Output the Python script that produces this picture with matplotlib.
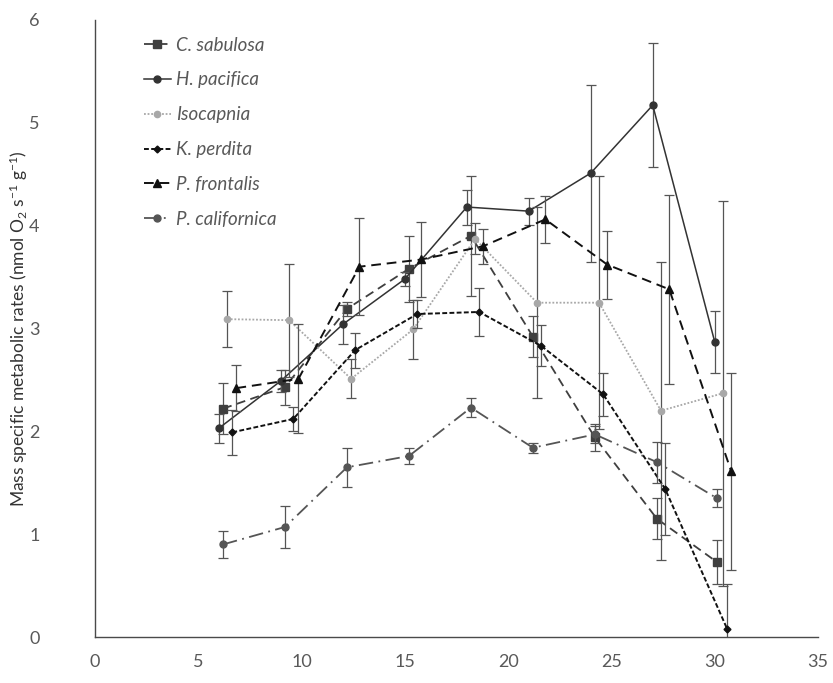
import matplotlib
matplotlib.use("Agg")
import matplotlib.pyplot as plt

plt.rcParams['font.family'] = ['Lato', 'DejaVu Sans']
plt.rcParams['mathtext.default'] = 'regular'

# Temperature (x), mean mass-specific metabolic rate (y) and error (e) per species
sab_x = [6.2, 9.2, 12.2, 15.2, 18.2, 21.2, 24.2, 27.2, 30.1]
sab_y = [2.22, 2.43, 3.19, 3.58, 3.90, 2.92, 1.94, 1.15, 0.73]
sab_e = [0.25, 0.17, 0.07, 0.32, 0.58, 0.20, 0.13, 0.20, 0.21]

pac_x = [6.0, 9.0, 12.0, 15.0, 18.0, 21.0, 24.0, 27.0, 30.0]
pac_y = [2.03, 2.49, 3.04, 3.48, 4.18, 4.14, 4.51, 5.17, 2.87]
pac_e = [0.14, 0.11, 0.19, 0.07, 0.17, 0.13, 0.86, 0.60, 0.30]

iso_x = [6.4, 9.4, 12.4, 15.4, 18.4, 21.4, 24.4, 27.4, 30.4]
iso_y = [3.09, 3.08, 2.51, 2.99, 3.87, 3.25, 3.25, 2.20, 2.37]
iso_e = [0.27, 0.55, 0.19, 0.29, 0.15, 0.93, 1.23, 1.45, 1.87]

per_x = [6.65, 9.6, 12.6, 15.6, 18.6, 21.6, 24.6, 27.6, 30.6]
per_y = [1.99, 2.12, 2.79, 3.14, 3.16, 2.83, 2.36, 1.44, 0.08]
per_e = [0.22, 0.12, 0.17, 0.14, 0.23, 0.20, 0.21, 0.45, 0.44]

fro_x = [6.85, 9.85, 12.8, 15.8, 18.8, 21.8, 24.8, 27.8, 30.8]
fro_y = [2.42, 2.51, 3.60, 3.67, 3.80, 4.06, 3.62, 3.38, 1.61]
fro_e = [0.22, 0.53, 0.47, 0.36, 0.17, 0.23, 0.33, 0.92, 0.96]

cal_x = [6.2, 9.2, 12.2, 15.2, 18.2, 21.2, 24.2, 27.2, 30.1]
cal_y = [0.90, 1.07, 1.65, 1.76, 2.23, 1.84, 1.97, 1.70, 1.35]
cal_e = [0.13, 0.20, 0.19, 0.08, 0.09, 0.05, 0.08, 0.20, 0.09]

x_ticks = [0, 5, 10, 15, 20, 25, 30, 35]
y_ticks = [0, 1, 2, 3, 4, 5, 6]

series = [
    ("C. sabulosa", sab_x, sab_y, sab_e,
     dict(color="#3f3f3f", ls=(0, (5, 3)), marker="s", ms=5.5, lw=1.3)),
    ("H. pacifica", pac_x, pac_y, pac_e,
     dict(color="#333333", ls="-", marker="o", ms=5, lw=1.1)),
    ("Isocapnia", iso_x, iso_y, iso_e,
     dict(color="#a8a8a8", ls=(0, (1, 1)), marker="o", ms=4.5, lw=1.3)),
    ("K. perdita", per_x, per_y, per_e,
     dict(color="#111111", ls=(0, (2.5, 1.2)), marker="D", ms=3.5, lw=1.4)),
    ("P. frontalis", fro_x, fro_y, fro_e,
     dict(color="#111111", ls=(0, (5, 3)), marker="^", ms=5.5, lw=1.4)),
    ("P. californica", cal_x, cal_y, cal_e,
     dict(color="#555555", ls=(0, (8, 3, 1, 3)), marker="o", ms=5, lw=1.3)),
]

fig = plt.figure(figsize=(8.33, 6.83), dpi=100)
ax = fig.add_axes([0.114, 0.0673, 0.868, 0.9037])

for name, x, y, e, st in series:
    ax.errorbar(x, y, yerr=e, fmt="none", ecolor="#555555", elinewidth=0.9,
                capsize=3.5, capthick=0.9)
    ax.plot(x, y, color=st["color"], ls=st["ls"], lw=st["lw"],
            marker=st["marker"], ms=st["ms"], mfc=st["color"],
            mec=st["color"], label=name)

ax.set_xlim(0, 35)
ax.set_ylim(0, 6)
ax.set_xticks(x_ticks)
ax.set_yticks(y_ticks)
ax.tick_params(axis="both", length=0, labelsize=13, labelcolor="#595959")
ax.tick_params(axis="y", pad=40)
ax.tick_params(axis="x", pad=12)
for s in ("top", "right"):
    ax.spines[s].set_visible(False)
for s in ("left", "bottom"):
    ax.spines[s].set_color("#4a4a4a")
    ax.spines[s].set_linewidth(1.0)

ax.set_ylabel("Mass specific metabolic rates (nmol O$_2$ s$^{-1}$ g$^{-1}$)",
              fontsize=12.5, color="#333333")
ax.yaxis.set_label_coords(-0.09, 0.5)

leg = ax.legend(loc="upper left", bbox_to_anchor=(0.045, 1.0), frameon=False,
                handlelength=1.4, handletextpad=0.3, labelspacing=0.95,
                prop=dict(style="italic", size=13.5))
for t in leg.get_texts():
    t.set_color("#595959")

fig.savefig("out.png", dpi=100)
